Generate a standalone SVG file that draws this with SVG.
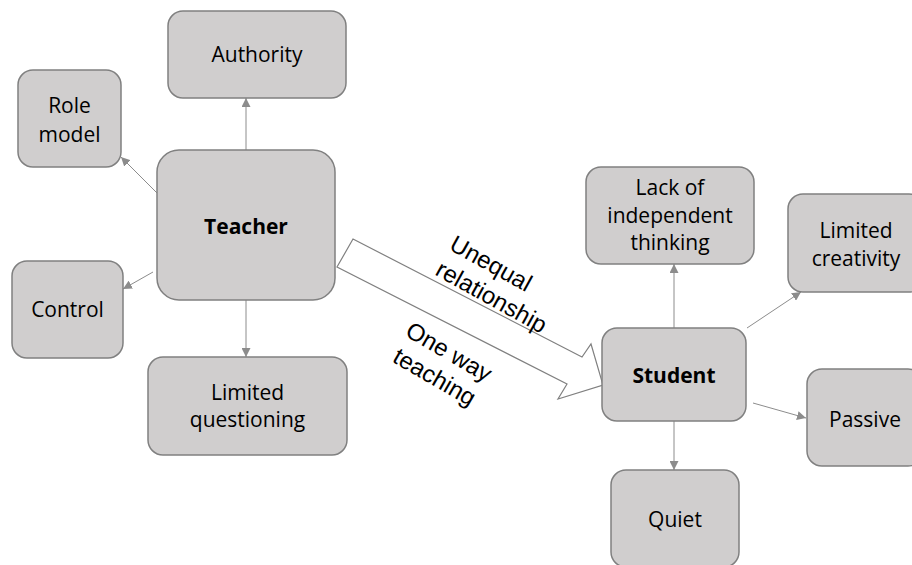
<svg xmlns="http://www.w3.org/2000/svg" width="912" height="565" viewBox="0 0 912 565">
<style>
.box{fill:#d0cece;stroke:#808080;stroke-width:1.5}
.t{font-family:"Open Sans","Liberation Sans",sans-serif;font-size:21px;fill:#000;text-anchor:middle}
.b{font-weight:bold;font-size:21px}
.c{stroke:#8c8c8c;stroke-width:1;fill:none;marker-end:url(#ah)}
.lbl{font-family:"Liberation Sans",Arial,sans-serif;font-size:24px;fill:#000}
</style>
<defs>
<marker id="ah" viewBox="0 0 10 10" refX="10" refY="5" markerWidth="9" markerHeight="9" markerUnits="userSpaceOnUse" orient="auto">
<path d="M0,0 L10,5 L0,10 Z" fill="#8c8c8c"/>
</marker>
</defs>
<rect width="912" height="565" fill="#fff"/>
<g id="connectors">
<line class="c" x1="246" y1="150" x2="246" y2="98"/>
<line class="c" x1="157" y1="193" x2="121" y2="157"/>
<line class="c" x1="153" y1="272" x2="123" y2="289"/>
<line class="c" x1="246" y1="300" x2="246" y2="357"/>
<line class="c" x1="674" y1="328" x2="674" y2="264"/>
<line class="c" x1="747" y1="328" x2="801" y2="292"/>
<line class="c" x1="753" y1="403" x2="806" y2="418"/>
<line class="c" x1="674" y1="421" x2="674" y2="470"/>
<path id="bigarrow" d="M353,239 L582,357 L591,344 L603,385 L558,399 L567,384 L337,267 Z" fill="#fff" stroke="#808080" stroke-width="1.2"/>
<g transform="translate(448,249) rotate(29)">
<text class="lbl" x="0" y="0">Unequal</text>
<text class="lbl" x="0" y="29">relationship</text>
</g>
<g transform="translate(443,362.4) rotate(30)" text-anchor="middle">
<text class="lbl" x="0" y="-4">One way</text>
<text class="lbl" x="0" y="25">teaching</text>
</g>
</g>
<g id="authority"><rect class="box" x="168" y="11" width="178" height="87" rx="15"/><text class="t" x="257" y="62">Authority</text></g>
<g id="rolemodel"><rect class="box" x="18" y="70" width="103" height="97" rx="15"/><text class="t" x="69.5" y="113">Role</text><text class="t" x="69.5" y="142">model</text></g>
<g id="teacher"><rect class="box" x="157" y="150" width="178" height="150" rx="22"/><text class="t b" x="246" y="234">Teacher</text></g>
<g id="control"><rect class="box" x="12" y="261" width="111" height="97" rx="15"/><text class="t" x="67.5" y="317">Control</text></g>
<g id="limitedquestioning"><rect class="box" x="148" y="357" width="199" height="98" rx="15"/><text class="t" x="247.5" y="400">Limited</text><text class="t" x="247.5" y="427">questioning</text></g>
<g id="lackthinking"><rect class="box" x="586" y="167" width="168" height="97" rx="15"/><text class="t" x="670" y="195">Lack of</text><text class="t" x="670" y="223">independent</text><text class="t" x="670" y="250">thinking</text></g>
<g id="limitedcreativity"><rect class="box" x="788" y="194" width="136" height="98" rx="15"/><text class="t" x="856" y="238">Limited</text><text class="t" x="856" y="266">creativity</text></g>
<g id="student"><rect class="box" x="602" y="328" width="144" height="93" rx="15"/><text class="t b" x="674" y="383">Student</text></g>
<g id="passive"><rect class="box" x="807" y="369" width="116" height="97" rx="15"/><text class="t" x="865" y="427">Passive</text></g>
<g id="quiet"><rect class="box" x="611" y="470" width="128" height="97" rx="15"/><text class="t" x="675" y="527">Quiet</text></g>
</svg>
